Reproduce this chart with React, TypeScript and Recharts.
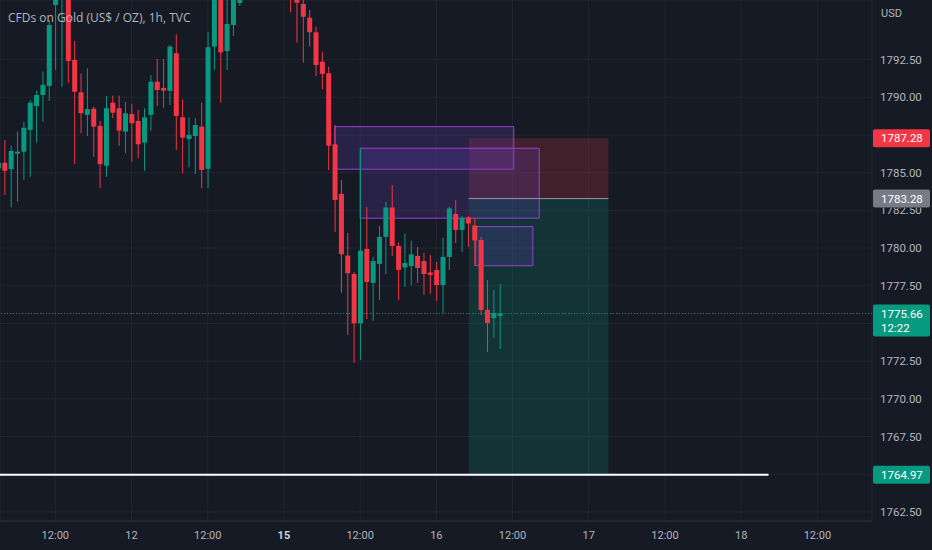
import React from "react";
import {
  Bar,
  CartesianGrid,
  ComposedChart,
  ReferenceArea,
  ReferenceLine,
  XAxis,
  YAxis,
} from "recharts";

const BG = "#161a25";
const GRID = "#222631";
const TEXT = "#b2b5be";
const UP = "#089981";
const DOWN = "#f23645";
const BOX_STROKE = "#9b3fd0";
const BOX_FILL = "#6a3fc0";

// 1h bars, first one index -1 (partly off the left edge)
const FIRST_BAR = -1;
const OPEN = [
  1785.29, 1785.66, 1785.23, 1786.26, 1786.39, 1787.83, 1789.42, 1790.15, 1790.75, 1796.12,
  1797.12, 1798.44, 1792.47, 1790.33, 1788.83, 1789.24, 1788.1, 1785.46, 1789.64, 1789.27,
  1787.72, 1788.89, 1788.43, 1786.99, 1788.83, 1791.03, 1790.62, 1790.42, 1792.92, 1788.67,
  1787.23, 1787.43, 1788.05, 1785.25, 1793.36, 1796.78, 1793.07, 1794.79, 1796.25, 1796.6,
  1797.6, 1798.8, 1799.5, 1798.9, 1798.3, 1797.9, 1797.5, 1796.9, 1796.19, 1795.28,
  1794.31, 1792.36, 1791.59, 1786.88, 1783.59, 1779.5, 1778.28, 1775.01, 1779.94, 1777.69,
  1778.95, 1780.74, 1782.69, 1780.14, 1778.71, 1778.81, 1779.48, 1779.14, 1778.38, 1778.55,
  1777.55, 1779.41, 1782.26, 1781.2, 1782.03, 1781.5, 1780.54, 1775.9, 1775.36, 1775.5,
];
const HIGH = [
  1786.5, 1787.17, 1786.79, 1787.72, 1788.38, 1789.82, 1790.44, 1791.7, 1795.13, 1798.77,
  1799.44, 1799.11, 1793.73, 1791.59, 1791.92, 1789.38, 1788.43, 1790.09, 1790.11, 1790.11,
  1789.69, 1789.54, 1789.16, 1789.27, 1791.48, 1792.54, 1792.54, 1793.47, 1794.18, 1789.87,
  1788.67, 1788.61, 1789.64, 1794.35, 1797.45, 1797.12, 1796.59, 1796.98, 1796.85, 1798.0,
  1799.2, 1800.1, 1800.4, 1799.6, 1799.0, 1798.6, 1797.8, 1797.2, 1796.78, 1795.79,
  1794.68, 1793.02, 1792.03, 1788.16, 1784.52, 1781.0, 1778.42, 1786.64, 1782.73, 1779.41,
  1781.47, 1783.06, 1784.18, 1780.37, 1780.97, 1780.5, 1780.07, 1779.68, 1779.54, 1779.08,
  1780.67, 1782.76, 1783.19, 1782.13, 1782.13, 1782.0, 1780.74, 1777.88, 1777.22, 1777.62,
];
const LOW = [
  1784.52, 1783.52, 1782.71, 1783.08, 1784.52, 1784.73, 1786.99, 1788.38, 1789.75, 1791.81,
  1790.68, 1790.95, 1785.58, 1787.61, 1787.43, 1786.06, 1783.97, 1784.73, 1788.61, 1786.79,
  1786.29, 1785.73, 1785.96, 1785.13, 1787.77, 1789.42, 1789.31, 1789.49, 1786.5, 1784.96,
  1785.33, 1784.91, 1783.97, 1783.97, 1791.81, 1789.64, 1791.81, 1794.06, 1796.05, 1796.5,
  1797.0, 1798.0, 1798.4, 1797.8, 1797.4, 1797.0, 1795.64, 1793.62, 1792.29, 1793.36,
  1791.41, 1790.53, 1785.18, 1781.07, 1777.02, 1774.24, 1772.38, 1772.58, 1775.3, 1775.17,
  1776.56, 1778.28, 1779.48, 1776.56, 1777.42, 1777.55, 1777.69, 1776.89, 1776.96, 1776.49,
  1775.7, 1778.55, 1780.34, 1779.74, 1780.07, 1778.81, 1775.56, 1773.11, 1774.04, 1773.31,
];
const CLOSE = [
  1785.66, 1785.13, 1786.44, 1786.39, 1787.98, 1789.64, 1790.15, 1790.82, 1794.79, 1798.11,
  1799.11, 1792.41, 1790.37, 1788.94, 1789.22, 1788.05, 1785.56, 1789.27, 1788.98, 1787.79,
  1788.94, 1788.28, 1786.88, 1788.67, 1791.03, 1790.48, 1790.44, 1793.36, 1788.76, 1787.32,
  1787.5, 1788.16, 1785.18, 1793.32, 1796.98, 1792.98, 1794.86, 1796.65, 1796.58, 1797.6,
  1798.8, 1799.5, 1798.9, 1798.3, 1797.9, 1797.5, 1796.9, 1796.27, 1795.34, 1794.31,
  1792.14, 1791.55, 1786.79, 1783.19, 1779.59, 1778.33, 1775.01, 1779.83, 1777.75, 1779.14,
  1780.74, 1782.69, 1780.14, 1778.55, 1779.01, 1779.58, 1778.68, 1778.28, 1778.22, 1777.55,
  1779.41, 1782.63, 1781.2, 1782.0, 1781.63, 1780.5, 1775.9, 1775.03, 1775.7, 1775.66,
];

const TIME_TICKS = [8, 20, 32, 44, 56, 68, 80, 92, 104, 116, 128];
const TIME_LABELS = ["12:00", "12", "12:00", "15", "12:00", "16", "12:00", "17", "12:00", "18", "12:00"];
const PRICE_TICKS = [1762.5, 1765, 1767.5, 1770, 1772.5, 1775, 1777.5, 1780, 1782.5, 1785, 1787.5, 1790, 1792.5];
// tick labels hidden behind the price badges, and the one partly covered
const HIDDEN_LABELS = [1765, 1775, 1787.5];
const COVERED_LABELS = [1782.5];

// visible window (bar index / price)
const VIEW_X = [-0.71, 136.6];
const VIEW_Y = [1761.9, 1796.45];

// rectangles drawn on the chart: bar index range and price range
const BOX_FROM = [52, 56, 74.2];
const BOX_TO = [80.2, 84.2, 83.2];
const BOX_TOP = [1788.05, 1786.62, 1781.42];
const BOX_BOTTOM = [1785.23, 1781.98, 1778.83];

// short position tool
const POS_FROM = 73.1;
const POS_TO = 95.1;
const ENTRY = 1783.28;
const STOP = 1787.28;
const TARGET = 1764.97;

const LAST_PRICE = 1775.66;
const COUNTDOWN = "12:22";
const HLINE_PRICE = 1764.97;
const HLINE_END = 120.3;

const data = OPEN.map((o, k) => ({
  i: FIRST_BAR + k,
  open: o,
  high: HIGH[k],
  low: LOW[k],
  close: CLOSE[k],
  range: [LOW[k], HIGH[k]],
}));

function Candle(props: any) {
  const { x, y, width, height, payload } = props;
  if (!payload) return null;
  const { open, close, high, low } = payload;
  const color = close >= open ? UP : DOWN;
  const ratio = high === low ? 0 : height / (high - low);
  const cx = x + width / 2;
  const top = y + (high - Math.max(open, close)) * ratio;
  const bodyH = Math.max(Math.abs(open - close) * ratio, 1);
  return (
    <g>
      <line x1={cx} x2={cx} y1={y} y2={y + height} stroke={color} strokeWidth={1} />
      <rect x={x} y={top} width={width} height={bodyH} fill={color} />
    </g>
  );
}

function badge(text: string, color: string, sub?: string) {
  return (p: any) => {
    const vb = p.viewBox || {};
    const left = vb.x + vb.width + 1;
    const h = sub ? 32 : 18;
    return (
      <g>
        <rect x={left} y={vb.y - 9} width={57} height={h} rx={2} fill={color} />
        <text x={left + 8} y={vb.y + 4} fill="#ffffff" fontSize={11.5} fontFamily="Roboto, sans-serif">
          {text}
        </text>
        {sub && (
          <text x={left + 8} y={vb.y + 18} fill="#ffffff" fontSize={11.5} fontFamily="Roboto, sans-serif">
            {sub}
          </text>
        )}
      </g>
    );
  };
}

function PriceTick(props: any) {
  const { x, y, payload } = props;
  const v = payload.value;
  if (HIDDEN_LABELS.includes(v)) return null;
  const covered = COVERED_LABELS.includes(v);
  const id = `cover-${String(v).replace(".", "-")}`;
  return (
    <g>
      {covered && (
        <defs>
          <clipPath id={id}>
            <rect x={x - 4} y={y - 2.5} width={60} height={20} />
          </clipPath>
        </defs>
      )}
      <text
        x={x}
        y={y}
        dy="0.355em"
        textAnchor="start"
        fill={TEXT}
        fontSize={11.5}
        fontFamily="Roboto, sans-serif"
        clipPath={covered ? `url(#${id})` : undefined}
      >
        {v.toFixed(2)}
      </text>
    </g>
  );
}

function TimeTick(props: any) {
  const { x, y, payload } = props;
  const label = TIME_LABELS[TIME_TICKS.indexOf(payload.value)] ?? "";
  const bold = label === "15";
  return (
    <text
      x={x}
      y={y + 10}
      textAnchor="middle"
      fill={bold ? "#d1d4dc" : TEXT}
      fontSize={11}
      fontWeight={bold ? 700 : 400}
      fontFamily="Roboto, sans-serif"
    >
      {label}
    </text>
  );
}

export default function App() {
  return (
    <div
      style={{
        position: "fixed",
        left: 0,
        top: 0,
        width: 932,
        height: 550,
        background: BG,
        overflow: "hidden",
        fontFamily: "Roboto, sans-serif",
      }}
    >
      <ComposedChart width={932} height={550} data={data} margin={{ top: 0, right: 0, bottom: 0, left: 0 }}>
        <CartesianGrid stroke={GRID} />
        <XAxis
          dataKey="i"
          type="number"
          domain={VIEW_X}
          allowDataOverflow
          ticks={TIME_TICKS}
          interval={0}
          height={29}
          axisLine={{ stroke: "#2a2e39" }}
          tickLine={false}
          tick={<TimeTick />}
        />
        <YAxis
          orientation="right"
          type="number"
          domain={VIEW_Y}
          allowDataOverflow
          ticks={PRICE_TICKS}
          interval={0}
          width={60}
          axisLine={false}
          tickLine={false}
          tick={<PriceTick />}
        />

        <ReferenceArea x1={POS_FROM} x2={POS_TO} y1={ENTRY} y2={STOP} fill={DOWN} fillOpacity={0.2} stroke="none" />
        <ReferenceArea x1={POS_FROM} x2={POS_TO} y1={TARGET} y2={ENTRY} fill={UP} fillOpacity={0.2} stroke="none" />
        {BOX_FROM.map((x1, k) => (
          <ReferenceArea
            key={k}
            x1={x1}
            x2={BOX_TO[k]}
            y1={BOX_BOTTOM[k]}
            y2={BOX_TOP[k]}
            fill={BOX_FILL}
            fillOpacity={0.22}
            stroke={BOX_STROKE}
            strokeWidth={1}
          />
        ))}

        <Bar dataKey="range" barSize={5} shape={<Candle />} isAnimationActive={false} />

        <ReferenceLine
          segment={[{ x: POS_FROM, y: ENTRY }, { x: POS_TO, y: ENTRY }]}
          stroke="#9598a1"
          strokeWidth={1}
        />
        <ReferenceLine
          segment={[{ x: VIEW_X[0], y: HLINE_PRICE }, { x: HLINE_END, y: HLINE_PRICE }]}
          stroke="#ffffff"
          strokeWidth={2}
        />
        <ReferenceLine y={LAST_PRICE} stroke={UP} strokeDasharray="1 2" label={badge(LAST_PRICE.toFixed(2), UP, COUNTDOWN)} />
        <ReferenceLine y={STOP} stroke="none" label={badge(STOP.toFixed(2), DOWN)} />
        <ReferenceLine y={ENTRY} stroke="none" label={badge(ENTRY.toFixed(2), "#787b86")} />
        <ReferenceLine y={TARGET} stroke="none" label={badge(TARGET.toFixed(2), UP)} />
      </ComposedChart>

      <div
        style={{
          position: "absolute",
          left: 8,
          top: 9,
          color: TEXT,
          fontSize: 12,
          fontFamily: "'Open Sans', sans-serif",
          whiteSpace: "nowrap",
        }}
      >
        CFDs on Gold (US$ / OZ), 1h, TVC
      </div>
      <div style={{ position: "absolute", left: 881, top: 7, color: TEXT, fontSize: 11 }}>USD</div>
    </div>
  );
}
